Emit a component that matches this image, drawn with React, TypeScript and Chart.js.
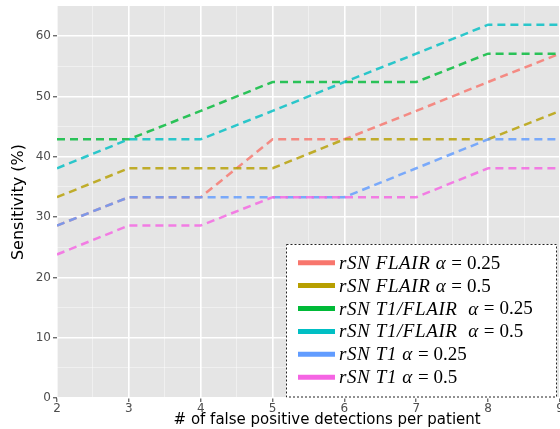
import React, { useEffect, useRef } from "react";
import { Chart, registerables } from "chart.js";

Chart.register(...registerables);

const xValues = [2, 3, 4, 5, 6, 7, 8, 9];
const flair025 = [28.6, 33.3, 33.3, 42.9, 42.9, 47.6, 52.4, 57.1];
const flair05 = [33.3, 38.1, 38.1, 38.1, 42.9, 42.9, 42.9, 47.6];
const t1flair025 = [42.9, 42.9, 47.6, 52.4, 52.4, 52.4, 57.1, 57.1];
const t1flair05 = [38.1, 42.9, 42.9, 47.6, 52.4, 57.1, 61.9, 61.9];
const t1025 = [28.6, 33.3, 33.3, 33.3, 33.3, 38.1, 42.9, 42.9];
const t105 = [23.8, 28.6, 28.6, 33.3, 33.3, 33.3, 38.1, 38.1];

const seriesLabels = [
  "rSN FLAIR α = 0.25",
  "rSN FLAIR α = 0.5",
  "rSN T1/FLAIR  α = 0.25",
  "rSN T1/FLAIR  α = 0.5",
  "rSN T1 α = 0.25",
  "rSN T1 α = 0.5",
];
const seriesValues = [flair025, flair05, t1flair025, t1flair05, t1025, t105];
const seriesColors = ["#F8766D", "#B79F00", "#00BA38", "#00BFC4", "#619CFF", "#F564E3"];

const xTitle = "# of false positive detections per patient";
const yTitle = "Sensitivity (%)";

const overlayPlugin = {
  id: "overlay",
  afterDraw(chart: any) {
    const ctx = chart.ctx as any;
    const ca = chart.chartArea;
    ctx.save();
    // x axis title
    ctx.fillStyle = "#000";
    ctx.font = '15px "DejaVu Sans"';
    ctx.textAlign = "center";
    ctx.textBaseline = "middle";
    ctx.fillText(xTitle, ca.left + (ca.right - ca.left) * 0.537, 420);

    // legend box
    const left = ca.left + 229;
    const top = ca.top + 238;
    const right = ca.right - 3;
    const bottom = ca.bottom - 0.5;
    ctx.fillStyle = "#fff";
    ctx.fillRect(left, top, right - left, bottom - top);
    ctx.setLineDash([2, 2]);
    ctx.strokeStyle = "#222";
    ctx.lineWidth = 1;
    ctx.strokeRect(left + 0.5, top + 0.5, right - left - 1, bottom - top - 1);
    ctx.setLineDash([]);

    const rowH = 22.9;
    const firstY = top + 18.7;
    seriesLabels.forEach((lab, i) => {
      const y = firstY + i * rowH;
      ctx.strokeStyle = seriesColors[i];
      ctx.lineWidth = 5;
      ctx.beginPath();
      ctx.moveTo(left + 12, y);
      ctx.lineTo(left + 49, y);
      ctx.stroke();
      const eq = lab.indexOf("=");
      const a = lab.slice(0, eq).trimEnd();
      const num = lab.slice(eq + 1).trim();
      ctx.fillStyle = "#000";
      ctx.textAlign = "left";
      ctx.textBaseline = "middle";
      ctx.font = 'italic 19px "Liberation Serif"';
      ctx.letterSpacing = "0.6px";
      let x = left + 53;
      ctx.fillText(a, x, y + 1);
      x += ctx.measureText(a).width + 5;
      ctx.letterSpacing = "0px";
      ctx.font = '19px "Liberation Serif"';
      ctx.fillText("=", x, y + 1);
      x += ctx.measureText("=").width + 5;
      ctx.fillText(num, x, y + 1);
    });
    ctx.restore();
  },
};

export default function App() {
  const ref = useRef<HTMLCanvasElement | null>(null);
  useEffect(() => {
    if (!ref.current) return;
    const chart = new Chart(ref.current, {
      type: "line",
      data: {
        datasets: seriesValues.map((vals, i) => ({
          label: seriesLabels[i],
          data: xValues.map((x, j) => ({ x, y: vals[j] })),
          borderColor: seriesColors[i] + "D0",
          backgroundColor: seriesColors[i],
          borderWidth: 2.5,
          borderDash: [8, 5],
          pointRadius: 0,
          tension: 0,
          fill: false,
          order: seriesValues.length - i,
        })),
      },
      options: {
        responsive: false,
        animation: false,
        layout: { padding: { top: 6, left: 0, right: 0, bottom: 0 } },
        plugins: { legend: { display: false }, tooltip: { enabled: false } },
        scales: {
          x: {
            type: "linear",
            min: 2,
            max: 9,
            border: { display: false },
            ticks: {
              stepSize: 0.5,
              autoSkip: false,
              maxRotation: 0,
              padding: 0,
              color: "#4D4D4D",
              font: { family: "DejaVu Sans", size: 12 },
              callback: (v: any) => (Number.isInteger(v) ? String(v) : ""),
            },
            grid: {
              color: (c: any) => (Number.isInteger(c.tick?.value) ? "#FFFFFF" : "rgba(255,255,255,0.55)"),
              lineWidth: (c: any) => (Number.isInteger(c.tick?.value) ? 1.6 : 0.8),
              tickColor: (c: any) => (Number.isInteger(c.tick?.value) ? "#333333" : "rgba(0,0,0,0)"),
              tickLength: 4,
              tickWidth: 1,
            },
            afterFit: (s: any) => {
              s.height = 31;
              s.paddingLeft = 0;
              s.paddingRight = 0;
            },
          },
          y: {
            type: "linear",
            min: 0,
            max: 65,
            border: { display: false },
            title: {
              display: true,
              text: yTitle,
              color: "#000",
              font: { family: "DejaVu Sans", size: 16 },
              padding: { top: 9, bottom: 0 },
            },
            ticks: {
              stepSize: 5,
              autoSkip: false,
              padding: 2,
              color: "#4D4D4D",
              font: { family: "DejaVu Sans", size: 12 },
              callback: (v: any) => (v % 10 === 0 ? String(v) : ""),
            },
            grid: {
              color: (c: any) => {
                const v = c.tick?.value;
                if (v > 60) return "rgba(0,0,0,0)";
                return v % 10 === 0 ? "#FFFFFF" : "rgba(255,255,255,0.55)";
              },
              lineWidth: (c: any) => (c.tick?.value % 10 === 0 ? 1.6 : 0.8),
              tickColor: (c: any) => {
                const v = c.tick?.value;
                return v % 10 === 0 && v <= 60 ? "#333333" : "rgba(0,0,0,0)";
              },
              tickLength: 4,
              tickWidth: 1,
            },
            afterFit: (s: any) => {
              s.width = 57;
              s.paddingTop = 0;
              s.paddingBottom = 0;
            },
          },
        },
      },
      plugins: [
        {
          id: "panelBg",
          beforeDraw(chart: any) {
            const { ctx, chartArea: a } = chart;
            ctx.save();
            ctx.fillStyle = "#E5E5E5";
            ctx.fillRect(a.left, a.top, a.right - a.left, a.bottom - a.top);
            ctx.restore();
          },
        },
        overlayPlugin,
      ],
    });
    return () => chart.destroy();
  }, []);
  return (
    <div style={{ position: "fixed", left: 0, top: 0, width: 560, height: 429, background: "#fff" }}>
      <canvas ref={ref} width={560} height={429} />
    </div>
  );
}
